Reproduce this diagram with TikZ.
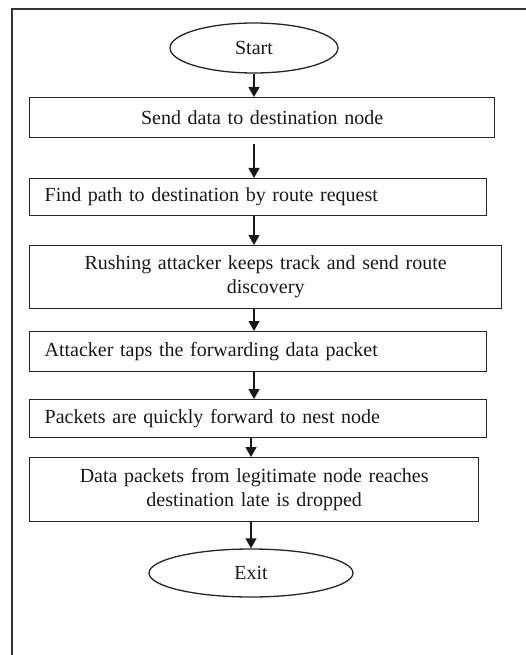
\documentclass[tikz,border=0pt]{standalone}
\usepackage{fontspec}
\setmainfont{Liberation Serif}
\usetikzlibrary{arrows.meta,shapes.geometric}
\begin{document}
\begin{tikzpicture}[x=1pt,y=-1pt,
  font=\fontsize{20}{24}\selectfont,
  every node/.style={text=black!90},
  box/.style={draw=black!85, line width=1.3pt, rectangle, inner xsep=15pt, inner ysep=0pt, anchor=north west},
  term/.style={draw=black!85, line width=1.3pt, ellipse, inner sep=0pt},
  flow/.style={draw=black!90, line width=1.3pt, -{Triangle[width=11pt,length=10pt]}}]
\useasboundingbox (0,0) rectangle (526,655);
\draw[line width=1.5pt, black!80] (526,9) -- (12,9) -- (12,655);

\node[term, minimum width=168pt, minimum height=50pt] (start) at (254,48) {Start};
\node[box, minimum height=40pt, text width=435pt, align=center] (b1) at (29,97) {Send data to destination node};
\node[box, minimum height=37pt, text width=427pt, align=left] (b2) at (29,178) {Find path to destination by route request};
\node[box, minimum height=63pt, text width=442pt, align=center] (b3) at (29,245) {Rushing attacker keeps track and send route\\discovery};
\node[box, minimum height=40pt, text width=427pt, align=left] (b4) at (29,331) {Attacker taps the forwarding data packet};
\node[box, minimum height=38pt, text width=427pt, align=left] (b5) at (29,399) {Packets are quickly forward to nest node};
\node[box, minimum height=64pt, text width=419pt, align=center] (b6) at (29,457) {Data packets from legitimate node reaches\\destination late is dropped};
\node[term, minimum width=204pt, minimum height=48pt] (exit) at (251,573) {Exit};

\draw[flow] (start.south) -- (start.south |- b1.north);
\draw[flow, shorten <=6pt] (b1.south -| start) -- (b2.north -| start);
\draw[flow] (b2.south -| start) -- (b3.north -| start);
\draw[flow] (b3.south -| start) -- (b4.north -| start);
\draw[flow] (b4.south -| start) -- (b5.north -| start);
\draw[flow] (b5.south -| exit) -- (b6.north -| exit);
\draw[flow] (b6.south -| exit) -- (exit.north);
\end{tikzpicture}
\end{document}
